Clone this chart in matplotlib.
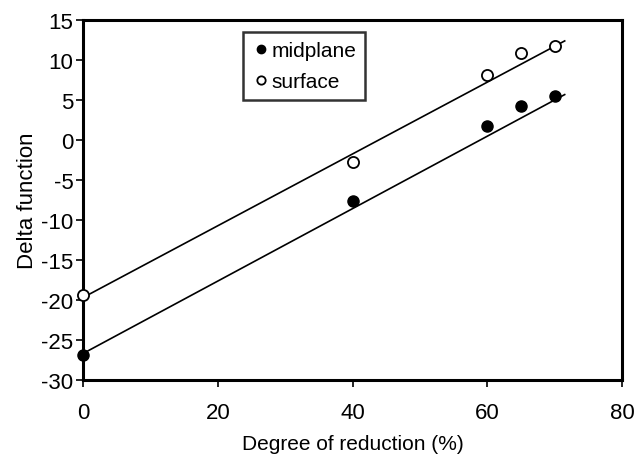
import numpy as np
import matplotlib
matplotlib.use("Agg")
import matplotlib.pyplot as plt

plt.rcParams['font.family'] = ['Liberation Sans', 'DejaVu Sans']
plt.rcParams['axes.unicode_minus'] = False

# degree of reduction (%)
reduction = [0, 40, 60, 65, 70]
# delta function values
midplane = [-26.9, -7.6, 1.75, 4.25, 5.5]
surface = [-19.4, -2.8, 8.1, 10.9, 11.8]

# straight line fits drawn on the chart (slope, intercept)
fit_midplane = [0.453, -26.7]
fit_surface = [0.449, -19.7]
fit_range = [0, 71.5]

fig = plt.figure(figsize=(6.34, 4.6), dpi=100)
ax = fig.add_axes([0.131, 0.172, 0.85, 0.782])

xx = np.array(fit_range)
ax.plot(xx, fit_midplane[0]*xx + fit_midplane[1], color='black', lw=1.2, zorder=2)
ax.plot(xx, fit_surface[0]*xx + fit_surface[1], color='black', lw=1.2, zorder=2)

ax.plot(reduction, midplane, 'o', color='black', markersize=8, label='midplane',
        clip_on=False, zorder=3)
ax.plot(reduction, surface, 'o', markerfacecolor='white', markeredgecolor='black',
        markeredgewidth=1.3, markersize=8, label='surface', clip_on=False, zorder=3)

ax.set_xlim(0, 80)
ax.set_ylim(-30, 15)
ax.set_xticks([0, 20, 40, 60, 80])
ax.set_yticks(range(-30, 16, 5))
ax.tick_params(direction='out', length=5, width=1.2, labelsize=16)
ax.tick_params(axis='x', pad=11)
ax.tick_params(axis='y', pad=2)
for s in ax.spines.values():
    s.set_linewidth(2.2)

ax.set_xlabel('Degree of reduction (%)', fontsize=15, labelpad=8)
ax.set_ylabel('Delta function', fontsize=16, labelpad=2)

leg = ax.legend(loc='upper left', bbox_to_anchor=(0.297, 0.967), fontsize=15,
                frameon=True, fancybox=False, handletextpad=0.1, handlelength=0.8,
                borderpad=0.45, labelspacing=0.55, markerscale=0.75, borderaxespad=0)
leg.get_frame().set_edgecolor('black')
leg.get_frame().set_linewidth(1.8)

plt.savefig('out.png', dpi=100)
